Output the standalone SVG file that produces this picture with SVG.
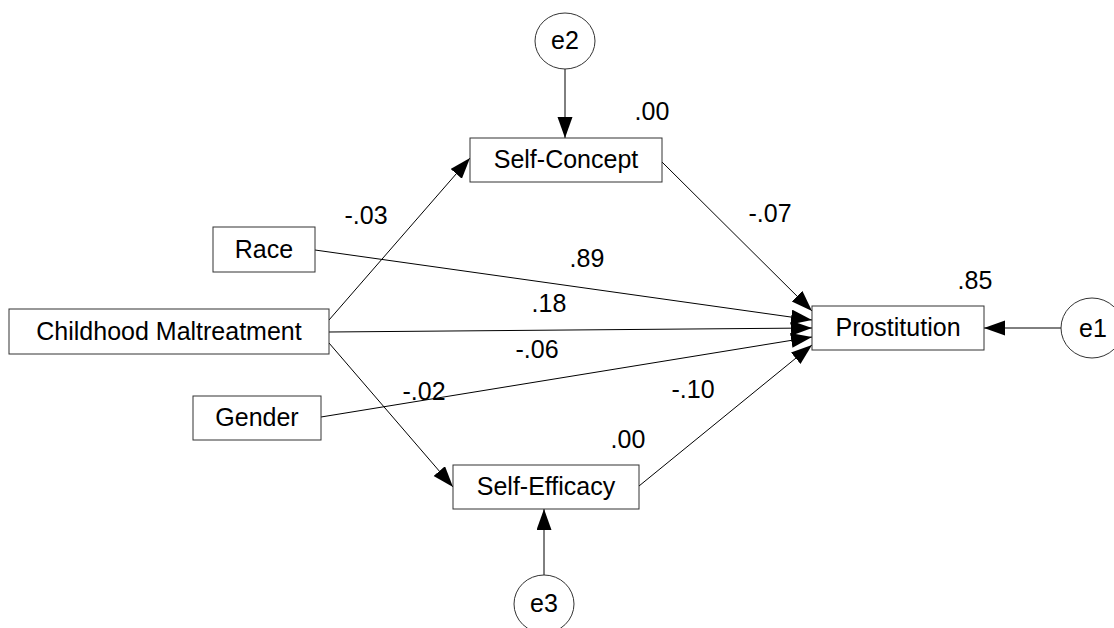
<svg xmlns="http://www.w3.org/2000/svg" width="1114" height="628" viewBox="0 0 1114 628">
<style>
  .box { fill: #fff; stroke: #333; stroke-width: 1; }
  .err { fill: #fff; stroke: #333; stroke-width: 1; }
  .t { font-family: "Liberation Sans", Arial, sans-serif; font-size: 25px; fill: #000; text-anchor: middle; }
  .lbl { font-family: "Liberation Sans", Arial, sans-serif; font-size: 25px; fill: #000; text-anchor: middle; }
  .edge { stroke: #000; stroke-width: 1; fill: none; marker-end: url(#arr); }
</style>
<defs>
  <marker id="arr" markerUnits="userSpaceOnUse" markerWidth="22" markerHeight="16" refX="21" refY="7.5" orient="auto">
    <path d="M0,0 L21,7.5 L0,15 z" fill="#000"/>
  </marker>
</defs>
<rect width="1114" height="628" fill="#fff"/>
<g id="connectors">
  <line class="edge" x1="565" y1="69" x2="565" y2="138"/>
  <line class="edge" x1="544" y1="575" x2="544" y2="509"/>
  <line class="edge" x1="1061" y1="328" x2="984" y2="328"/>
  <line class="edge" x1="329" y1="320" x2="470" y2="158"/>
  <line class="edge" x1="329" y1="343" x2="453" y2="487"/>
  <line class="edge" x1="662" y1="162" x2="812" y2="311"/>
  <line class="edge" x1="315" y1="250" x2="812" y2="320"/>
  <line class="edge" x1="329" y1="332" x2="812" y2="328"/>
  <line class="edge" x1="321" y1="417" x2="812" y2="337"/>
  <line class="edge" x1="639" y1="486" x2="812" y2="345"/>
</g>
<g id="labels">
  <text class="lbl" x="366" y="224">-.03</text>
  <text class="lbl" x="770" y="222">-.07</text>
  <text class="lbl" x="587" y="267">.89</text>
  <text class="lbl" x="549" y="312">.18</text>
  <text class="lbl" x="537" y="358">-.06</text>
  <text class="lbl" x="424" y="400">-.02</text>
  <text class="lbl" x="693" y="398">-.10</text>
  <text class="lbl" x="652" y="120">.00</text>
  <text class="lbl" x="975" y="289">.85</text>
  <text class="lbl" x="628" y="448">.00</text>
</g>
<g id="e2">
  <ellipse class="err" cx="565" cy="41" rx="30" ry="28"/>
  <text class="t" x="565" y="49">e2</text>
</g>
<g id="e1">
  <ellipse class="err" cx="1092" cy="328" rx="31" ry="30"/>
  <text class="t" x="1093" y="337">e1</text>
</g>
<g id="e3">
  <ellipse class="err" cx="544" cy="604" rx="30" ry="29"/>
  <text class="t" x="544" y="612">e3</text>
</g>
<g id="self-concept">
  <rect class="box" x="470" y="138" width="192" height="44"/>
  <text class="t" x="566" y="168">Self-Concept</text>
</g>
<g id="prostitution">
  <rect class="box" x="812" y="306" width="172" height="44"/>
  <text class="t" x="898" y="336">Prostitution</text>
</g>
<g id="childhood-maltreatment">
  <rect class="box" x="9" y="309" width="320" height="45"/>
  <text class="t" x="169" y="340">Childhood Maltreatment</text>
</g>
<g id="race">
  <rect class="box" x="213" y="227" width="102" height="45"/>
  <text class="t" x="264" y="258">Race</text>
</g>
<g id="gender">
  <rect class="box" x="193" y="396" width="128" height="44"/>
  <text class="t" x="257" y="426">Gender</text>
</g>
<g id="self-efficacy">
  <rect class="box" x="453" y="465" width="186" height="44"/>
  <text class="t" x="546" y="495">Self-Efficacy</text>
</g>
</svg>
